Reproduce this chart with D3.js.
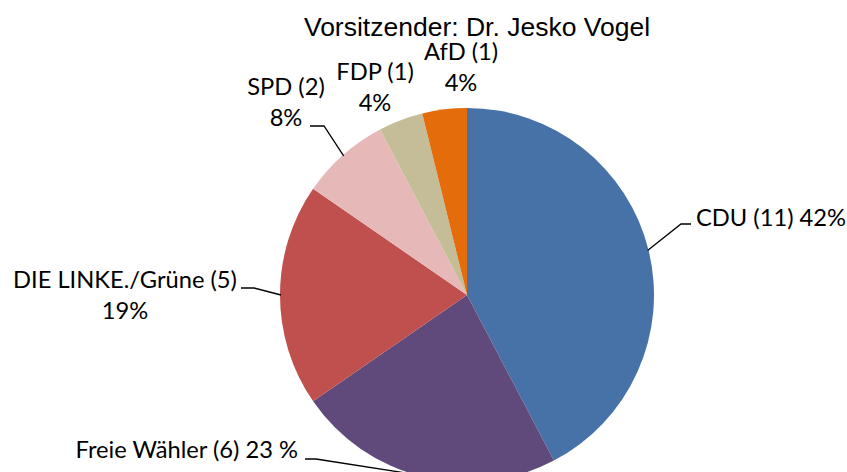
<!DOCTYPE html>
<html>
<head>
<meta charset="utf-8">
<script src="https://cdn.jsdelivr.net/npm/d3@7"></script>
<style>
    body { margin: 0; background: #fff; }
    svg { display: block; }
    #chartTitle { font-family: 'Liberation Sans', Arial, sans-serif; font-size: 26.5px; fill: #000; text-anchor: middle; }
    .label { font-family: Lato, 'Open Sans', sans-serif; font-size: 23.7px; fill: #000; }
    .leader { fill: none; stroke: #000; stroke-width: 1.3; }
</style>
</head>
<body>
<script>
'use strict';
(function () {

    const parties = ['CDU', 'Freie Wähler', 'DIE LINKE./Grüne', 'SPD', 'FDP', 'AfD'];
    const seats = [11, 6, 5, 2, 1, 1];
    const percentTexts = ['42%', '23 %', '19%', '8%', '4%', '4%'];
    const colors = ['#4672A8', '#604A7B', '#C0504D', '#E6B9B8', '#C4BD97', '#E46C0A'];
    const title = 'Vorsitzender: Dr. Jesko Vogel';

    function getPlotArea() {
        return {
            svg: { width: 847, height: 472 },
            center: { x: 467, y: 295 },
            radius: 187
        };
    }

    // label layout: text lines, anchor position and the elbow of the leader line (if any)
    function getLabelLayout() {
        return [
            { lines: ['CDU (11) 42%'], x: 696, y: 226, anchor: 'start', elbow: [[691, 224], [681, 224]] },
            { lines: ['Freie Wähler (6) 23 %'], x: 298, y: 458, anchor: 'end', elbow: [[305, 459], [316, 459]] },
            { lines: ['DIE LINKE./Grüne (5)', '19%'], x: 125, y: 288, anchor: 'middle', elbow: [[241, 288], [254, 288]] },
            { lines: ['SPD (2)', '8%'], x: 286, y: 95, anchor: 'middle', elbow: [[310, 126], [324, 126]] },
            { lines: ['FDP (1)', '4%'], x: 375, y: 80, anchor: 'middle', elbow: null },
            { lines: ['AfD (1)', '4%'], x: 461, y: 60, anchor: 'middle', elbow: null }
        ];
    }

    function draw() {
        const plot = getPlotArea();
        const data = parties.map((p, i) => ({ name: p, seats: seats[i], pct: percentTexts[i], color: colors[i] }));

        const svg = d3.select('body').append('svg')
            .attr('width', plot.svg.width)
            .attr('height', plot.svg.height);

        const pie = d3.pie().sort(null).value(d => d.seats);
        const arc = d3.arc().innerRadius(0).outerRadius(plot.radius);
        const arcs = pie(data);

        const g = svg.append('g')
            .attr('transform', 'translate(' + plot.center.x + ',' + plot.center.y + ')');

        g.selectAll('path')
            .data(arcs)
            .enter()
            .append('path')
            .attr('d', arc)
            .attr('fill', d => d.data.color);

        // leader lines run from the middle of the slice's outer edge to the label elbow
        const layout = getLabelLayout();
        const edgeArc = d3.arc().innerRadius(plot.radius - 1).outerRadius(plot.radius - 1);
        arcs.forEach((a, i) => {
            const lay = layout[i];
            if (!lay.elbow) return;
            const c = edgeArc.centroid(a);
            const pts = lay.elbow.concat([[plot.center.x + c[0], plot.center.y + c[1]]]);
            svg.append('path')
                .attr('class', 'leader')
                .attr('d', d3.line()(pts));
        });

        layout.forEach(lay => {
            const t = svg.append('text')
                .attr('class', 'label')
                .attr('text-anchor', lay.anchor);
            lay.lines.forEach((ln, j) => {
                t.append('tspan')
                    .attr('x', lay.x)
                    .attr('y', lay.y + j * 30.5)
                    .text(ln);
            });
        });

        svg.append('text')
            .attr('id', 'chartTitle')
            .attr('x', 477)
            .attr('y', 36)
            .text(title);
    }

    window.onload = draw;

})();
</script>
</body>
</html>
